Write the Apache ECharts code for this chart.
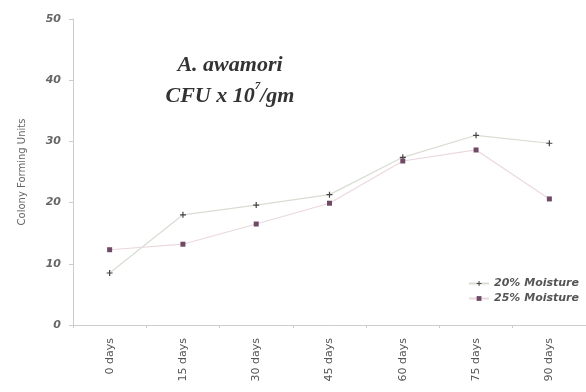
<!DOCTYPE html>
<html>
<head>
<meta charset="utf-8">
<script src="https://cdn.jsdelivr.net/npm/echarts@6/dist/echarts.min.js"></script>
<style>
  html, body { margin: 0; padding: 0; background: #fff; }
  #chart { width: 586px; height: 392px; }
</style>
</head>
<body>
<div id="chart"></div>
<script>
// data
const categories = ['0 days', '15 days', '30 days', '45 days', '60 days', '75 days', '90 days'];
const moisture20 = [8.5, 18.0, 19.6, 21.3, 27.4, 31.0, 29.7];
const moisture25 = [12.3, 13.2, 16.5, 19.9, 26.8, 28.6, 20.6];
const yTicks = [0, 10, 20, 30, 40, 50];

const plusPath = 'path://M4,0H6V4H10V6H6V10H4V6H0V4H4Z';

const chart = echarts.init(document.getElementById('chart'));
chart.setOption({
  animation: false,
  backgroundColor: '#fff',
  grid: { left: 73, right: -12, top: 19, bottom: 67 },
  title: {
    text: 'A. awamori\n{a|CFU x 10}{s|7}{a|/gm}',
    left: 225, top: 45, textAlign: 'center',
    textStyle: {
      fontFamily: 'Liberation Serif', fontStyle: 'italic', fontWeight: 'bold',
      fontSize: 22, color: '#333', lineHeight: 31,
      rich: {
        a: { fontFamily: 'Liberation Serif', fontStyle: 'italic', fontWeight: 'bold', fontSize: 22, color: '#333' },
        s: { fontFamily: 'Liberation Serif', fontStyle: 'italic', fontWeight: 'bold', fontSize: 11, color: '#333', verticalAlign: 'top', padding: [0, 0, 12, 0] }
      }
    }
  },
  legend: {
    orient: 'vertical', right: 2, top: 273, itemGap: 4,
    itemWidth: 20, itemHeight: 6,
    textStyle: { fontFamily: 'DejaVu Sans', fontStyle: 'italic', fontWeight: 'bold', fontSize: 11, color: '#555' },
    data: ['20% Moisture', '25% Moisture']
  },
  xAxis: {
    type: 'category', data: categories, boundaryGap: true,
    axisLine: { lineStyle: { color: '#ccc' } },
    axisTick: { show: true, lineStyle: { color: '#ccc' }, length: 3 },
    axisLabel: { rotate: 90, margin: 13, fontFamily: 'DejaVu Sans', fontSize: 11, color: '#555' }
  },
  yAxis: {
    type: 'value', min: yTicks[0], max: yTicks[yTicks.length - 1], interval: 10,
    name: 'Colony Forming Units', nameLocation: 'middle', nameGap: 46, nameRotate: 90,
    nameTextStyle: { fontFamily: 'DejaVu Sans', fontSize: 10, color: '#666' },
    axisLine: { show: true, lineStyle: { color: '#ccc' } },
    axisTick: { show: true, lineStyle: { color: '#ccc' }, length: 4 },
    splitLine: { show: false },
    axisLabel: { margin: 12, fontFamily: 'DejaVu Sans', fontStyle: 'italic', fontWeight: 'bold', fontSize: 11, color: '#666' }
  },
  series: [
    {
      name: '20% Moisture', type: 'line', data: moisture20,
      symbol: plusPath, symbolSize: 6,
      lineStyle: { color: '#d8ddd2', width: 1.2 },
      itemStyle: { color: '#444' }
    },
    {
      name: '25% Moisture', type: 'line', data: moisture25,
      symbol: 'rect', symbolSize: 5,
      lineStyle: { color: '#ead8de', width: 1.2 },
      itemStyle: { color: '#6e4a66' }
    }
  ]
});
</script>
</body>
</html>
